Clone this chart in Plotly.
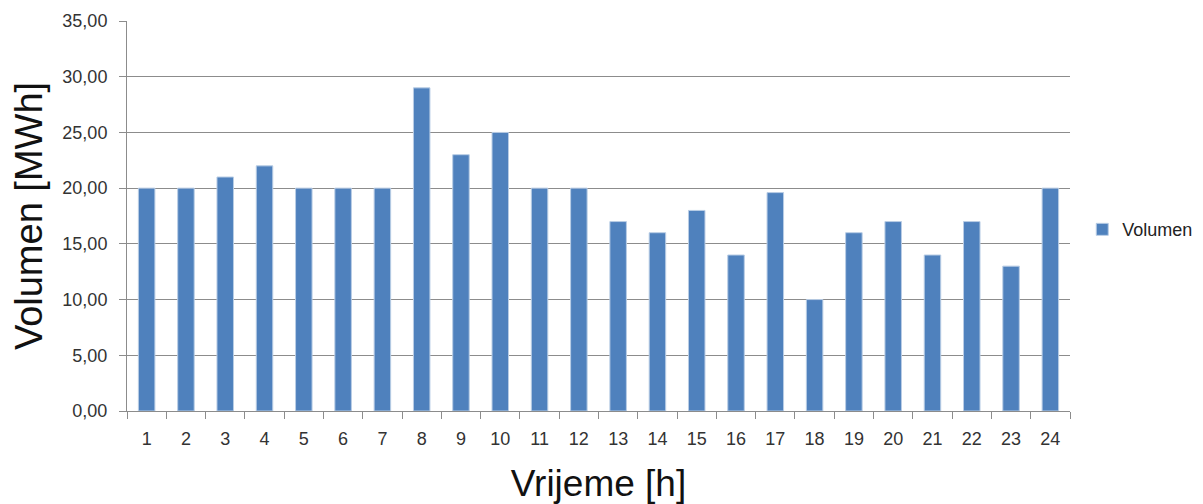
import plotly.graph_objects as go

hours = [str(i) for i in range(1, 25)]
volumen = [20, 20, 21, 22, 20, 20, 20, 29, 23, 25, 20, 20,
           17, 16, 18, 14, 19.6, 10, 16, 17, 14, 17, 13, 20]
y_ticks = [0, 5, 10, 15, 20, 25, 30, 35]
y_tick_labels = ["0,00", "5,00", "10,00", "15,00", "20,00", "25,00", "30,00", "35,00"]

fig = go.Figure()
fig.add_trace(go.Bar(
    x=hours, y=volumen, name="Volumen",
    marker=dict(color="#4F81BD", line=dict(color="#B9CDE5", width=1)),
    width=0.42,
))

font_family = "Liberation Sans, Arial, sans-serif"
# page body has an 8px default margin, so the figure is offset by 8px
fig.update_layout(
    width=1195, height=496,
    margin=dict(l=119, r=133, t=13, b=93, autoexpand=False),
    plot_bgcolor="white", paper_bgcolor="white",
    showlegend=True,
    legend=dict(x=1.013, y=0.465, xanchor="left", yanchor="middle",
                font=dict(family=font_family, size=18, color="#222222"),
                itemwidth=30),
    font=dict(family=font_family, color="#404040"),
    xaxis=dict(
        type="category", tickson="boundaries", automargin=False,
        ticks="outside", ticklen=7, tickcolor="#8c8c8c",
        showline=True, linecolor="#8c8c8c", linewidth=1,
        showgrid=False, ticklabelstandoff=11,
        tickfont=dict(size=18, color="#333333"),
        title=dict(text="Vrijeme [h]", font=dict(size=37, color="#111111"), standoff=28),
    ),
    yaxis=dict(
        range=[0, 35], tickvals=y_ticks, ticktext=y_tick_labels, automargin=False,
        ticks="outside", ticklen=7, tickcolor="#8c8c8c",
        showline=True, linecolor="#8c8c8c", linewidth=1,
        showgrid=True, gridcolor="#8c8c8c", gridwidth=1,
        zeroline=False, ticklabelstandoff=8,
        tickfont=dict(size=18, color="#333333"),
        title=dict(text="Volumen [MWh]", font=dict(size=38, color="#111111"), standoff=9),
    ),
)

fig.write_html("out.html")
